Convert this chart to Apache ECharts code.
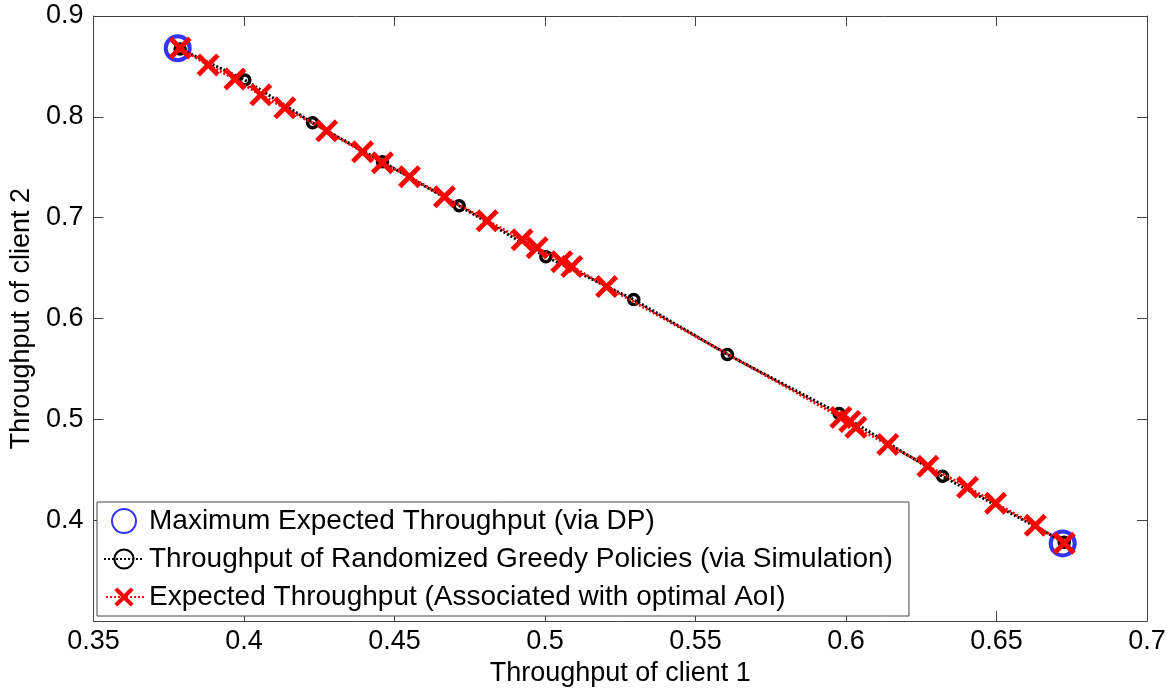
<!DOCTYPE html>
<html>
<head>
<meta charset="utf-8">
<script src="https://cdn.jsdelivr.net/npm/echarts@6/dist/echarts.min.js"></script>
<style>
  html, body { margin: 0; padding: 0; background: #fff; }
  #chart { width: 1169px; height: 692px; }
</style>
</head>
<body>
<div id="chart"></div>
<script>
// maximum expected throughput (DP)
const dpX = [0.378, 0.672];
const dpY = [0.868, 0.377];

// randomized greedy policies (simulation)
const simX = [0.3788, 0.4003, 0.4228, 0.4460, 0.4715, 0.5003, 0.5295, 0.5606, 0.5977, 0.6321, 0.6725];
const simY = [0.8673, 0.8366, 0.7941, 0.7554, 0.7119, 0.6614, 0.6188, 0.5644, 0.5059, 0.4436, 0.3782];

// expected throughput associated with optimal AoI
const aoiX = [0.3788, 0.3881, 0.3970, 0.4056, 0.4136, 0.4275, 0.4394, 0.4460, 0.4550, 0.4666,
  0.4808, 0.4924, 0.4974, 0.5056, 0.5089, 0.5205, 0.5983, 0.6013, 0.6033, 0.6139,
  0.6272, 0.6404, 0.6497, 0.6629, 0.6725];
const aoiY = [0.8683, 0.8515, 0.8376, 0.8218, 0.8089, 0.7861, 0.7653, 0.7545, 0.7406, 0.7208,
  0.6970, 0.6782, 0.6703, 0.6564, 0.6515, 0.6317, 0.5020, 0.4980, 0.4921, 0.4752,
  0.4535, 0.4327, 0.4168, 0.3950, 0.3772];

const seriesNames = [
  "Maximum Expected Throughput (via DP)",
  "Throughput of Randomized Greedy Policies (via Simulation)",
  "Expected Throughput (Associated with optimal AoI)"
];

const zip = (xs, ys) => xs.map((x, i) => [x, ys[i]]);
const font = "Liberation Sans, Arial, sans-serif";
const crossPath = "path://M1.5,0 L5,3.5 L8.5,0 L10,1.5 L6.5,5 L10,8.5 L8.5,10 L5,6.5 L1.5,10 L0,8.5 L3.5,5 L0,1.5 Z";

const axisLine = { show: true, lineStyle: { color: "#444", width: 1 } };
const axisTick = { show: true, inside: true, length: 10, lineStyle: { color: "#444" } };

const option = {
  backgroundColor: "#fff",
  animation: false,
  grid: { left: 89, right: 22, top: 16, bottom: 69 },
  xAxis: [
    {
      type: "value", min: 0.35, max: 0.7, interval: 0.05,
      name: "Throughput of client 1", nameLocation: "middle", nameGap: 31,
      nameTextStyle: { fontFamily: font, fontSize: 27, color: "#000" },
      axisLine, axisTick,
      axisLabel: { fontFamily: font, fontSize: 27, color: "#000", margin: 7,
        formatter: v => String(+v.toFixed(2)) },
      splitLine: { show: false }
    },
    {
      type: "value", position: "top", min: 0.35, max: 0.7, interval: 0.05,
      axisLine, axisTick, axisLabel: { show: false }, splitLine: { show: false }
    }
  ],
  yAxis: [
    {
      type: "value", min: 0.3, max: 0.9, interval: 0.1,
      name: "Throughput of client 2", nameLocation: "middle", nameGap: 53,
      nameTextStyle: { fontFamily: font, fontSize: 27, color: "#000" },
      axisLine, axisTick,
      axisLabel: { fontFamily: font, fontSize: 27, color: "#000", margin: 10,
        showMinLabel: false, formatter: v => String(+v.toFixed(1)) },
      splitLine: { show: false }
    },
    {
      type: "value", position: "right", min: 0.3, max: 0.9, interval: 0.1,
      axisLine, axisTick, axisLabel: { show: false }, splitLine: { show: false }
    }
  ],
  legend: {
    orient: "vertical",
    left: 97, top: 502,
    padding: [5, 16, 5, 6],
    itemGap: 10,
    itemWidth: 40, itemHeight: 24,
    backgroundColor: "#fff",
    borderColor: "#444", borderWidth: 1,
    textStyle: { fontFamily: font, fontSize: 28, color: "#000" },
    data: seriesNames
  },
  series: [
    {
      name: seriesNames[0], type: "scatter",
      symbol: "circle", symbolSize: 24,
      itemStyle: { color: "rgba(0,0,0,0)", borderColor: "#0000ff", borderWidth: 4 },
      data: zip(dpX, dpY), z: 2
    },
    {
      name: seriesNames[1], type: "line",
      symbol: "circle", symbolSize: 10, showAllSymbol: true,
      itemStyle: { color: "rgba(0,0,0,0)", borderColor: "#000", borderWidth: 3.5 },
      lineStyle: { color: "#000", width: 3, type: [2, 2] },
      data: zip(simX, simY), z: 3
    },
    {
      name: seriesNames[2], type: "line",
      symbol: crossPath, symbolSize: 23, showAllSymbol: true,
      itemStyle: { color: "#ff0000" },
      lineStyle: { color: "#ff0000", width: 3, type: [2, 2], dashOffset: 2 },
      data: zip(aoiX, aoiY), z: 4
    }
  ]
};

const myChart = echarts.init(document.getElementById("chart"));
myChart.setOption(option);
</script>
</body>
</html>
